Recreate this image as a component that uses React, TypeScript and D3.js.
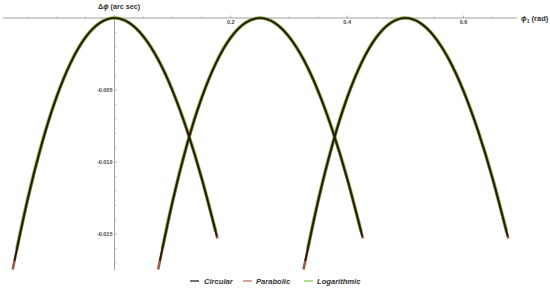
import React from "react";
import * as d3 from "d3";

// Arch centres (rad) – each curve is the same arch shifted along φ1
const archCenters = [0, 0.25, 0.5];

// Offsets from arch centre (rad) and Δφ values (arc sec)
const circularOffsets = [-0.172, -0.15, -0.125, -0.1, -0.075, -0.05, -0.025, 0, 0.025, 0.05, 0.075, 0.1, 0.125, 0.15, 0.176];
const circularValues = [-0.01686, -0.01271, -0.00873, -0.00553, -0.00308, -0.00135, -0.00034, 0, -0.00033, -0.0013, -0.00288, -0.00507, -0.00783, -0.01115, -0.01516];

const parabolicOffsets = [-0.175, -0.15, -0.125, -0.1, -0.075, -0.05, -0.025, 0, 0.025, 0.05, 0.075, 0.1, 0.125, 0.15, 0.177];
const parabolicValues = [-0.01747, -0.01275, -0.00877, -0.00555, -0.00309, -0.00136, -0.00034, 0, -0.00033, -0.0013, -0.00289, -0.00508, -0.00785, -0.01117, -0.0153];

const logarithmicOffsets = [-0.168, -0.15, -0.125, -0.1, -0.075, -0.05, -0.025, 0, 0.025, 0.05, 0.075, 0.1, 0.125, 0.15, 0.174];
const logarithmicValues = [-0.01605, -0.01268, -0.00871, -0.00551, -0.00307, -0.00135, -0.00033, 0, -0.00033, -0.00129, -0.00288, -0.00506, -0.00781, -0.01112, -0.01483];

const seriesNames = ["Circular", "Parabolic", "Logarithmic"];
const xTickLabels = [0.2, 0.4, 0.6];
const yTickLabels = [-0.005, -0.01, -0.015];

const W = 550;
const H = 288;

export default function App() {
  const x = d3.scaleLinear().domain([0, 0.6]).range([114.5, 463.5]);
  const y = d3.scaleLinear().domain([0, -0.015]).range([18, 234]);

  const line = d3
    .line<[number, number]>()
    .x((d) => x(d[0]))
    .y((d) => y(d[1]))
    .curve(d3.curveNatural);

  const mk = (offs: number[], vals: number[]) =>
    archCenters.map((c) => offs.map((o, i) => [c + o, vals[i]] as [number, number]));

  const series = [
    { name: seriesNames[2], color: "#80d048", width: 3.6, arches: mk(logarithmicOffsets, logarithmicValues) },
    { name: seriesNames[1], color: "#9a5a40", width: 2.6, arches: mk(parabolicOffsets, parabolicValues) },
    { name: seriesNames[0], color: "#1c1c10", width: 1.7, arches: mk(circularOffsets, circularValues) },
  ];

  const xMinor = d3.range(-3, 14).map((i) => i * 0.05);
  const yMinor = d3.range(1, 18).map((i) => -i * 0.001);

  const axisColor = "#a0a0a0";
  const labelColor = "#444";

  const legend = [
    { name: seriesNames[0], color: "#222", lx: 190, tx: 204 },
    { name: seriesNames[1], color: "#b07858", lx: 243, tx: 256 },
    { name: seriesNames[2], color: "#80d048", lx: 304, tx: 317 },
  ];

  return (
    <svg
      width={W}
      height={H}
      style={{ position: "absolute", left: 0, top: 0, background: "#fff" }}
      fontFamily="'Liberation Sans', Arial, sans-serif"
    >
      {/* x axis */}
      <line x1={3} x2={517} y1={y(0)} y2={y(0)} stroke={axisColor} strokeWidth={1} />
      {xMinor.map((t, i) => {
        const major = xTickLabels.some((v) => Math.abs(v - t) < 1e-9);
        return (
          <line
            key={"xt" + i}
            x1={x(t)}
            x2={x(t)}
            y1={y(0) - (major ? 2.5 : 1.5)}
            y2={y(0)}
            stroke={axisColor}
            strokeWidth={0.8}
          />
        );
      })}
      {xTickLabels.map((t) => (
        <text
          key={"xl" + t}
          x={x(t)}
          y={y(0) + 6}
          fontSize={5.5}
          fontWeight="bold"
          fill={labelColor}
          textAnchor="middle"
        >
          {t.toFixed(1)}
        </text>
      ))}
      {/* y axis */}
      <line x1={x(0)} x2={x(0)} y1={15} y2={y(-0.0175)} stroke={axisColor} strokeWidth={1} />
      {yMinor.map((t, i) => {
        const major = yTickLabels.some((v) => Math.abs(v - t) < 1e-9);
        return (
          <line
            key={"yt" + i}
            x1={x(0)}
            x2={x(0) + (major ? 2.5 : 1.5)}
            y1={y(t)}
            y2={y(t)}
            stroke={axisColor}
            strokeWidth={0.8}
          />
        );
      })}
      {yTickLabels.map((t) => (
        <text
          key={"yl" + t}
          x={x(0) - 2}
          y={y(t) + 2}
          fontSize={5.5}
          fontWeight="bold"
          fill={labelColor}
          textAnchor="end"
        >
          {t.toFixed(3)}
        </text>
      ))}
      {/* axis labels */}
      <text x={98} y={9} fontSize={7.2} fontWeight="bold" fill="#333">
        Δ<tspan fontStyle="italic">ϕ</tspan> (arc sec)
      </text>
      <text x={521} y={21} fontSize={7.5} fontWeight="bold" fill="#333">
        <tspan fontStyle="italic">ϕ</tspan>
        <tspan fontSize={5} dy={1.5}>1</tspan>
        <tspan dy={-1.5}> (rad)</tspan>
      </text>
      {/* curves */}
      {series.map((s) =>
        s.arches.map((a, j) => (
          <path
            key={s.name + j}
            d={line(a) || ""}
            fill="none"
            stroke={s.color}
            strokeWidth={s.width}
            strokeLinecap="butt"
          />
        ))
      )}
      {/* legend */}
      {legend.map((l) => (
        <g key={l.name}>
          <line x1={l.lx} x2={l.lx + 9} y1={281} y2={281} stroke={l.color} strokeWidth={1.3} />
          <text x={l.tx} y={284} fontSize={7.6} fontWeight="bold" fontStyle="italic" fill="#333">
            {l.name}
          </text>
        </g>
      ))}
    </svg>
  );
}
